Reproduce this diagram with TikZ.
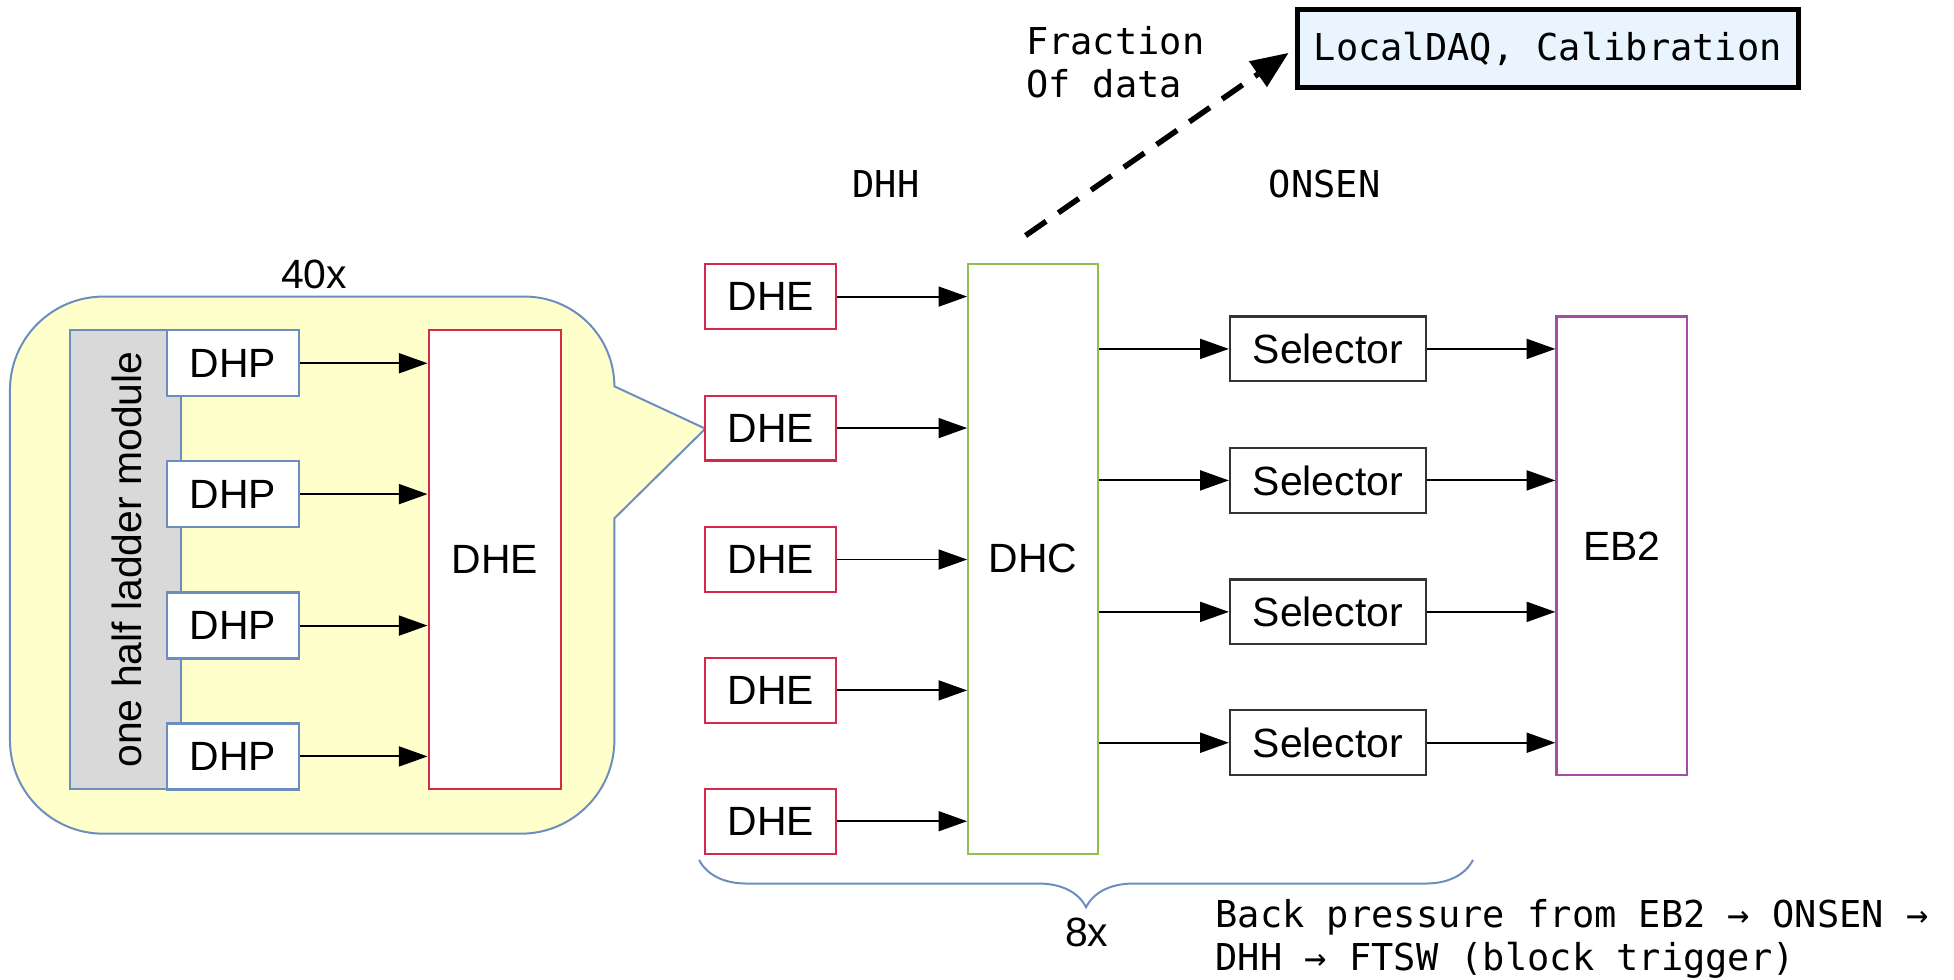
\documentclass[tikz,border=0pt]{standalone}
\usepackage{fontspec}
\setmainfont{Liberation Sans}
\newfontfamily\monofam{DejaVu Sans Mono}
\usetikzlibrary{arrows.meta,decorations.pathreplacing}
\definecolor{cblue}{HTML}{6C8EBF}
\definecolor{cyellow}{HTML}{FFFFCC}
\definecolor{cgray}{HTML}{D9D9D9}
\definecolor{cred}{HTML}{D6294A}
\definecolor{cgreen}{HTML}{8CC152}
\definecolor{cpurple}{HTML}{A54CA5}
\definecolor{cldaq}{HTML}{EAF4FF}
\begin{document}
\begin{tikzpicture}[x=0.5pt,y=-0.5pt,
  sans/.style={font=\fontsize{16.4}{19}\selectfont},
  mono/.style={font=\monofam\fontsize{14.85}{17.5}\selectfont},
  box/.style={draw, line width=0.9pt, fill=white, inner sep=0pt, sans},
  dhpbox/.style={box, draw=cblue, minimum width=53pt, minimum height=26.5pt},
  dhebig/.style={box, draw=cred, minimum width=53pt, minimum height=184pt},
  dhebox/.style={box, draw=cred, minimum width=52.5pt, minimum height=26pt},
  dhcbox/.style={box, draw=cgreen, minimum width=52pt, minimum height=236.5pt},
  selbox/.style={box, draw=black!80, minimum width=78.5pt, minimum height=26pt},
  ebbox/.style={box, draw=cpurple, minimum width=52.5pt, minimum height=184pt},
  conn/.style={line width=0.75pt, -{Triangle[length=11.5pt,width=8pt]}},
  lbl/.style={inner sep=0pt},
]
\useasboundingbox (0,0) rectangle (1568,786);

% callout bubble
\draw[cblue, fill=cyellow, line width=0.8pt]
  (83,238) -- (421,238) .. controls (460.8,238) and (493,270.2) .. (493,310)
  -- (566,344) -- (493,416) -- (493,594)
  .. controls (493,635.4) and (459.4,669) .. (418,669)
  -- (83,669) .. controls (41.6,669) and (8,635.4) .. (8,594)
  -- (8,313) .. controls (8,271.6) and (41.6,238) .. (83,238) -- cycle;

\node[lbl, sans] (n40) at (252,220) {40x};

% half ladder module
\node[draw=cblue, fill=cgray, line width=0.8pt, minimum width=44.5pt, minimum height=184pt, inner sep=0pt] (hlm) at (100.5,449) {};
\node[lbl, sans, rotate=90] (hlmtext) at (102,449) {one half ladder module};

\node[dhpbox] (dhp1) at (187,291.5) {DHP};
\node[dhpbox] (dhp2) at (187,396.5) {DHP};
\node[dhpbox] (dhp3) at (187,502) {DHP};
\node[dhpbox] (dhp4) at (187,607) {DHP};

\node[dhebig] (dheb) at (397,449) {DHE};

\foreach \i in {1,...,4} \draw[conn] (dhp\i.east) -- (dhp\i.east -| dheb.west);

% DHE column
\node[dhebox] (dhe1) at (618.5,238) {DHE};
\node[dhebox] (dhe2) at (618.5,343.5) {DHE};
\node[dhebox] (dhe3) at (618.5,449) {DHE};
\node[dhebox] (dhe4) at (618.5,554) {DHE};
\node[dhebox] (dhe5) at (618.5,659) {DHE};

\node[dhcbox] (dhc) at (829,448.5) {DHC};

\foreach \i in {1,...,5} \draw[conn] (dhe\i.east) -- (dhe\i.east -| dhc.west);

% selectors
\node[selbox] (sel1) at (1065.5,280) {Selector};
\node[selbox] (sel2) at (1065.5,385.5) {Selector};
\node[selbox] (sel3) at (1065.5,491) {Selector};
\node[selbox] (sel4) at (1065.5,596) {Selector};

\node[ebbox] (eb2) at (1301.5,438) {EB2};

\foreach \i in {1,...,4} {
  \draw[conn] (sel\i.west -| dhc.east) -- (sel\i.west);
  \draw[conn] (sel\i.east) -- (sel\i.east -| eb2.west);
}

% labels
\node[lbl, mono] (dhh) at (711,148) {DHH};
\node[lbl, mono] (onsen) at (1063,148) {ONSEN};

% LocalDAQ
\node[draw=black, fill=cldaq, line width=2pt, minimum width=201pt, minimum height=31pt, inner sep=0pt, mono] (ldaq) at (1242,39) {LocalDAQ, Calibration};
\node[lbl, mono, align=left, anchor=west] (frac) at (823,50) {Fraction\\Of data};
\coordinate (dstart) at (823,189);
\draw[line width=2.2pt, dash pattern=on 10pt off 6pt, -{Triangle[length=15pt,width=12pt]}, shorten >=3pt] (dstart) -- (ldaq.west);

% brace
\coordinate (bl) at (561,690);
\coordinate (br) at (1182,690);
\draw[cblue, line width=0.8pt, decorate, decoration={brace, mirror, amplitude=19pt}] (bl) -- (br);
\node[lbl, sans] (n8) at (872,748) {8x};

\node[lbl, mono, align=left, anchor=west] (bp) at (975,753.5) {Back pressure from EB2 → ONSEN →\\DHH → FTSW (block trigger)};
\end{tikzpicture}
\end{document}
